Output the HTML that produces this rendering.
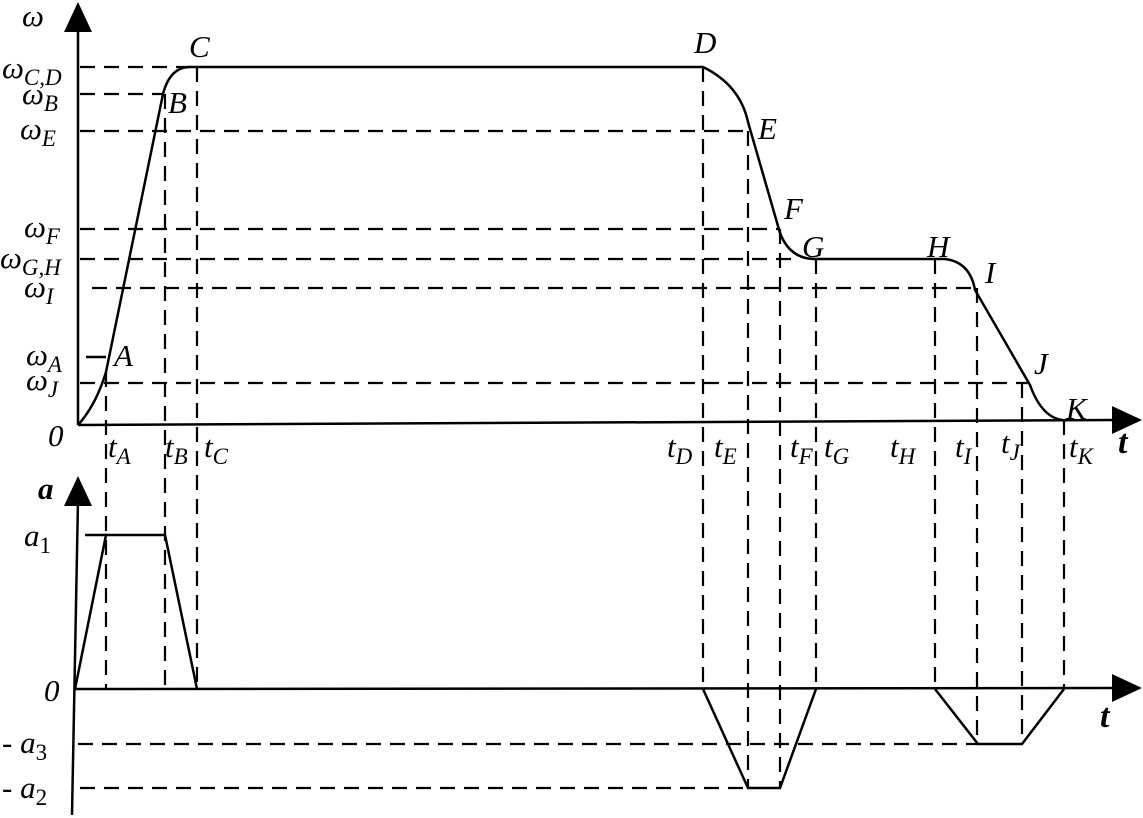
<!DOCTYPE html>
<html><head><meta charset="utf-8"><style>html,body{margin:0;padding:0;background:#fff}svg{display:block}text{font-family:"Liberation Serif",serif;font-style:italic;fill:#000}</style></head><body>
<svg width="1143" height="818" viewBox="0 0 1143 818" xmlns="http://www.w3.org/2000/svg">
<g stroke="#000" stroke-width="2.2" fill="none" stroke-dasharray="15,9">
<line x1="80" y1="67" x2="190" y2="67"/>
<line x1="80" y1="94" x2="163" y2="94"/>
<line x1="80" y1="131" x2="748" y2="131"/>
<line x1="80" y1="229" x2="780" y2="229"/>
<line x1="80" y1="259" x2="800" y2="259"/>
<line x1="92" y1="288" x2="975" y2="288"/>
<line x1="80" y1="383" x2="1030" y2="383"/>
<line x1="106" y1="372" x2="106" y2="689"/>
<line x1="165" y1="94" x2="165" y2="689"/>
<line x1="197" y1="67" x2="197" y2="689"/>
<line x1="703" y1="67" x2="703" y2="689"/>
<line x1="748" y1="131" x2="748" y2="788"/>
<line x1="780" y1="229" x2="780" y2="788"/>
<line x1="816" y1="259" x2="816" y2="689"/>
<line x1="935" y1="259" x2="935" y2="689"/>
<line x1="977" y1="288" x2="977" y2="744"/>
<line x1="1022" y1="383" x2="1022" y2="744"/>
<line x1="1064" y1="420" x2="1064" y2="689"/>
<line x1="78" y1="744" x2="977" y2="744"/>
<line x1="80" y1="788" x2="748" y2="788"/>
</g>
<g stroke="#000" stroke-width="2.5" fill="none">
<line x1="78" y1="425" x2="78" y2="28"/>
<line x1="78" y1="425" x2="1115" y2="420"/>
<line x1="72" y1="815" x2="78" y2="500"/>
<line x1="75" y1="689" x2="1115" y2="688"/>
<line x1="86" y1="357" x2="106" y2="357"/>
<path d="M78,425 Q96,405 106,372 L163,94 Q170,67 190,67 L703,67 Q740,85 748,122 L780,233 Q790,259 815,259 L945,259 Q970,262 975,290 L1030,385 Q1042,418 1063,420"/>
<path d="M75,689 L106,535 L165,535 L197,689"/>
<line x1="85" y1="535" x2="106" y2="535"/>
<path d="M703,689 L748,788 L780,788 L816,689"/>
<path d="M935,689 L978,744 L1022,744 L1064,689"/>
</g>
<g fill="#000">
<polygon points="78,2 64,32 92,32"/>
<polygon points="1142,420 1112,406 1112,434"/>
<polygon points="78,476 64,506 92,506"/>
<polygon points="1142,688 1112,674 1112,702"/>
</g>
<g font-size="31">
<text x="22" y="26">ω</text>
<text x="2" y="78">ω<tspan font-size="23" dy="7">C,D</tspan></text>
<text x="22" y="104">ω<tspan font-size="23" dy="7">B</tspan></text>
<text x="20" y="139">ω<tspan font-size="23" dy="7">E</tspan></text>
<text x="24" y="237">ω<tspan font-size="23" dy="7">F</tspan></text>
<text x="0" y="268">ω<tspan font-size="23" dy="7">G,H</tspan></text>
<text x="24" y="297">ω<tspan font-size="23" dy="7">I</tspan></text>
<text x="26" y="365">ω<tspan font-size="23" dy="7">A</tspan></text>
<text x="26" y="390">ω<tspan font-size="23" dy="7">J</tspan></text>
<text x="48" y="446">0</text>
<text x="189" y="57">C</text>
<text x="168" y="113">B</text>
<text x="114" y="366">A</text>
<text x="694" y="53">D</text>
<text x="758" y="139">E</text>
<text x="784" y="219">F</text>
<text x="802" y="257">G</text>
<text x="927" y="257">H</text>
<text x="985" y="283">I</text>
<text x="1034" y="374">J</text>
<text x="1066" y="419">K</text>
<text x="108" y="457">t<tspan font-size="23" dy="7">A</tspan></text>
<text x="165" y="457">t<tspan font-size="23" dy="7">B</tspan></text>
<text x="204" y="457">t<tspan font-size="23" dy="7">C</tspan></text>
<text x="667" y="457">t<tspan font-size="23" dy="7">D</tspan></text>
<text x="714" y="457">t<tspan font-size="23" dy="7">E</tspan></text>
<text x="790" y="457">t<tspan font-size="23" dy="7">F</tspan></text>
<text x="824" y="457">t<tspan font-size="23" dy="7">G</tspan></text>
<text x="890" y="457">t<tspan font-size="23" dy="7">H</tspan></text>
<text x="955" y="457">t<tspan font-size="23" dy="7">I</tspan></text>
<text x="1001" y="453">t<tspan font-size="23" dy="7">J</tspan></text>
<text x="1069" y="457">t<tspan font-size="23" dy="7">K</tspan></text>
<text x="1118" y="453" font-weight="bold" font-size="34">t</text>
<text x="38" y="499" font-weight="bold">a</text>
<text x="24" y="546">a<tspan font-size="23" dy="7" font-style="normal">1</tspan></text>
<text x="44" y="701">0</text>
<text x="1100" y="727" font-weight="bold" font-size="34">t</text>
<text x="2" y="753"><tspan font-style="normal">- </tspan>a<tspan font-size="23" dy="7" font-style="normal">3</tspan></text>
<text x="2" y="798"><tspan font-style="normal">- </tspan>a<tspan font-size="23" dy="7" font-style="normal">2</tspan></text>
</g>
</svg>
</body></html>
